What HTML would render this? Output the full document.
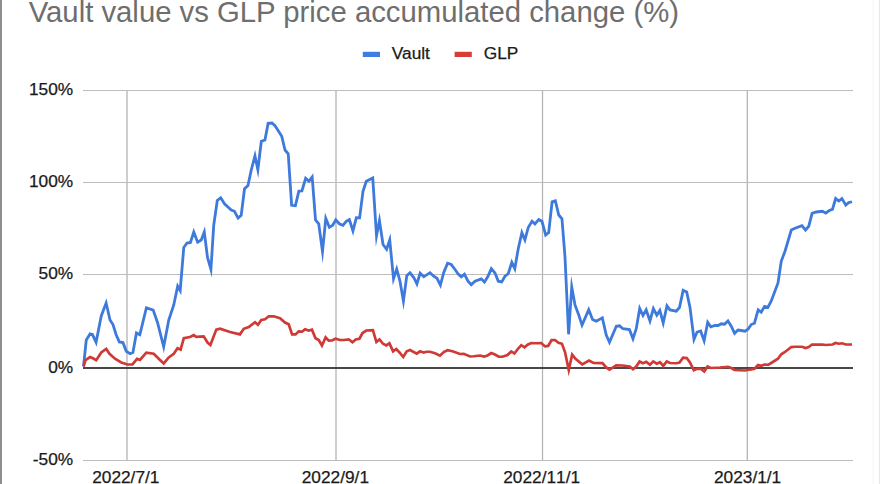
<!DOCTYPE html>
<html><head><meta charset="utf-8">
<style>
html,body{margin:0;padding:0;background:#fff;}
body{width:880px;height:484px;overflow:hidden;position:relative;font-family:"Liberation Sans",sans-serif;}
svg{position:absolute;left:0;top:0;}
text{font-family:"Liberation Sans",sans-serif;}
</style></head><body>
<svg width="880" height="484" viewBox="0 0 880 484">
<rect x="0" y="0" width="880" height="484" fill="#ffffff"/>
<rect x="0" y="0" width="2" height="484" fill="#8e8e8e"/>
<rect x="879" y="0" width="1" height="484" fill="#e6e6e6"/>
<rect x="872.5" y="0" width="1.5" height="484" fill="#f8f8f8"/>
<text id="title" x="28.7" y="21.5" font-size="29.3" fill="#6e6e6e">Vault value vs GLP price accumulated change (%)</text>
<!-- legend -->
<rect x="362.8" y="51.8" width="17.2" height="5.2" fill="#3f7de2"/>
<text id="lg1" x="391.8" y="59.4" font-size="17.3" fill="#1a1a1a" stroke="#1a1a1a" stroke-width="0.25">Vault</text>
<rect x="454.6" y="51.8" width="17.2" height="5.2" fill="#d93d38"/>
<text id="lg2" x="483.8" y="59.4" font-size="17.3" fill="#1a1a1a" stroke="#1a1a1a" stroke-width="0.25">GLP</text>
<!-- gridlines -->
<g fill="#b4b4b4">
<rect x="126.35" y="90" width="1.3" height="371"/>
<rect x="335.35" y="90" width="1.3" height="371"/>
<rect x="541.9" y="90" width="1.25" height="371"/>
<rect x="746.65" y="90" width="1.3" height="371"/>
</g>
<g fill="#bdbdbd">
<rect x="83" y="90" width="770" height="1"/>
<rect x="83" y="182" width="770" height="1"/>
<rect x="83" y="274" width="770" height="1"/>
<rect x="83" y="460" width="770" height="1"/>
</g>
<rect x="83" y="367.1" width="770" height="1.8" fill="#333"/>
<!-- series -->
<polyline fill="none" stroke="#3d7adc" stroke-width="2.8" stroke-linejoin="miter" stroke-miterlimit="10" points="83.50,366.50 86.27,340.01 90.06,333.90 92.46,334.55 96.08,342.35 101.25,316.00 106.14,303.05 110.01,320.00 112.99,324.50 116.25,335.00 119.30,341.93 122.94,342.57 126.27,351.23 130.01,353.67 132.93,352.45 136.44,332.89 139.84,334.65 146.40,307.76 153.20,310.05 157.50,322.50 163.68,346.73 168.75,320.00 173.75,305.00 177.68,286.14 180.18,290.53 183.77,247.51 187.03,243.04 190.43,242.42 193.78,232.03 197.62,242.16 201.22,239.98 204.27,231.96 207.50,257.50 210.92,269.45 213.75,225.00 217.29,200.52 220.70,197.81 224.50,203.75 231.26,209.99 234.47,211.28 238.07,218.11 241.21,215.23 244.53,188.77 247.97,185.49 251.25,170.00 254.95,155.87 257.86,169.77 261.33,141.32 264.93,139.94 268.11,123.37 271.98,123.05 275.00,125.75 278.25,130.75 281.74,136.25 285.02,149.99 288.22,153.76 291.64,205.37 295.38,205.82 298.85,191.12 301.91,190.89 305.65,178.27 308.97,181.21 312.18,177.07 315.53,219.99 318.73,223.76 322.50,251.50 325.78,218.26 329.36,227.20 332.48,225.48 335.79,219.93 339.26,223.74 342.96,225.34 346.26,221.26 349.37,219.58 352.95,230.85 356.36,217.65 359.60,217.82 363.00,191.25 366.29,181.28 372.74,177.95 376.52,235.70 379.44,220.60 383.02,244.49 386.63,249.28 389.73,239.90 393.52,278.82 396.71,269.07 400.00,281.25 403.43,300.98 406.78,275.77 409.98,272.80 413.75,277.50 416.91,283.91 420.15,273.09 423.77,276.81 429.98,272.68 433.75,276.25 436.98,278.27 440.38,285.10 443.75,272.50 447.60,263.22 451.23,264.52 454.50,268.75 458.00,273.75 461.26,276.79 464.42,274.13 468.01,281.25 471.26,284.74 475.01,281.26 481.22,278.87 484.45,282.11 488.00,276.25 491.33,268.57 494.99,273.00 498.30,281.18 501.69,281.87 505.01,276.26 508.23,273.73 511.83,262.33 514.80,268.57 518.25,248.75 521.88,232.68 524.91,239.94 528.26,227.50 532.05,221.13 534.98,223.96 538.78,219.44 541.96,221.28 545.66,234.99 548.71,232.48 552.09,201.83 555.35,200.76 558.77,214.99 561.97,218.76 565.00,257.00 568.60,334.30 571.75,287.00 575.00,305.00 578.75,315.00 582.05,325.11 588.73,309.77 592.54,319.47 596.25,321.18 602.33,317.88 606.25,335.00 609.49,342.30 616.31,326.32 619.48,325.81 623.01,328.73 629.44,329.58 632.97,338.75 636.25,328.75 639.70,308.46 643.02,315.49 646.17,309.69 649.96,320.97 653.37,308.59 656.78,315.13 659.86,310.41 663.20,322.96 666.94,305.86 670.02,309.96 676.22,311.16 679.48,307.49 683.17,290.35 686.69,292.04 690.00,307.50 693.99,339.43 697.05,332.05 700.64,330.96 704.12,340.74 707.70,322.25 710.80,326.85 715.00,325.51 718.00,325.48 721.26,323.78 724.48,324.19 727.95,320.87 731.25,326.25 734.58,333.31 738.02,330.06 741.25,330.50 744.99,331.20 747.99,329.24 751.27,324.52 754.45,323.20 758.16,309.95 761.19,312.19 764.56,306.40 767.93,307.34 771.25,301.00 778.00,283.00 781.25,261.25 785.00,251.25 791.29,230.04 795.00,228.25 801.96,225.64 805.50,230.13 808.74,226.24 812.07,213.31 816.25,212.00 822.49,211.28 825.74,213.13 829.25,210.51 832.44,209.44 835.65,198.49 838.75,201.07 841.94,198.57 845.81,205.14 848.76,202.52 852.00,201.75"/>
<polyline fill="none" stroke="#d03a36" stroke-width="2.7" stroke-linejoin="miter" stroke-miterlimit="10" points="83.50,366.50 85.53,360.02 90.01,357.08 92.50,358.00 96.20,360.26 101.26,352.51 106.20,349.01 109.50,353.75 115.00,358.75 121.25,362.50 127.50,364.49 132.47,364.44 137.04,358.88 139.97,359.88 146.28,352.59 153.74,353.78 158.75,358.75 163.73,363.46 168.75,357.50 173.74,353.74 177.55,348.19 180.60,349.68 183.83,338.08 190.00,336.99 193.74,335.11 196.26,336.96 203.70,336.35 207.51,342.50 210.39,345.04 216.31,329.57 220.00,328.77 230.00,332.00 239.95,334.37 243.77,328.78 248.75,326.99 255.00,322.18 257.96,324.70 261.28,320.04 264.99,319.24 268.76,316.28 273.75,316.26 279.99,318.26 285.00,322.50 288.71,324.29 292.08,334.39 295.48,334.45 298.77,331.31 301.99,331.70 305.01,329.33 308.75,330.48 311.91,329.68 315.53,338.23 318.73,340.02 321.96,345.51 325.59,337.47 328.77,340.69 332.00,340.49 335.50,338.79 340.00,339.99 343.75,340.00 348.74,339.30 352.50,342.31 355.76,339.52 359.46,338.70 362.51,333.01 366.26,330.52 372.90,330.14 376.40,342.01 379.48,339.51 383.01,343.74 386.24,345.40 389.41,343.32 393.09,351.38 396.23,348.97 399.50,352.50 403.22,357.05 406.77,351.28 410.00,350.06 416.74,353.64 420.01,351.32 423.75,352.47 426.25,351.76 430.00,351.76 435.00,353.25 439.98,355.62 443.75,352.01 447.50,350.28 452.50,351.25 460.00,353.99 463.75,353.77 470.00,356.48 473.75,356.25 480.00,355.51 484.00,356.48 487.50,355.49 491.26,353.08 495.00,354.50 498.76,356.73 502.50,356.74 507.49,354.99 511.27,351.42 514.46,353.52 518.00,348.75 521.27,345.20 524.49,347.35 528.00,344.50 531.25,343.02 535.00,343.25 541.23,343.05 545.02,346.44 548.21,345.94 551.55,340.08 554.99,340.04 558.50,342.74 561.95,343.80 565.00,352.00 568.76,370.12 572.19,354.57 575.50,358.75 582.26,364.37 589.00,360.59 593.50,362.98 602.47,363.06 606.25,367.50 609.50,369.63 616.26,365.28 622.50,365.50 629.74,366.52 633.00,369.30 636.25,366.50 639.56,361.46 643.00,363.19 646.24,361.85 649.99,364.78 653.27,361.43 656.76,363.66 659.97,362.16 663.24,365.90 666.79,361.42 670.00,362.99 676.25,363.24 679.48,362.47 683.04,357.59 686.72,358.05 690.00,362.50 693.83,370.26 697.00,368.77 700.74,368.78 704.20,371.46 707.55,366.45 710.75,367.98 720.00,367.50 728.00,366.77 731.25,368.00 734.51,369.98 745.00,370.50 747.50,370.00 751.25,369.50 754.49,368.73 758.03,365.08 761.25,365.73 764.50,364.52 767.99,364.96 771.25,363.00 777.99,358.74 781.26,354.26 785.00,352.00 791.26,347.03 795.00,346.75 802.00,346.76 805.50,347.97 808.75,346.99 812.01,344.53 822.50,344.50 825.75,345.00 832.50,344.49 835.50,343.04 838.75,343.74 842.00,343.27 845.75,344.49 852.00,344.50"/>
<!-- y labels -->
<g font-size="17.3" fill="#1a1a1a" stroke="#1a1a1a" stroke-width="0.25" text-anchor="end">
<text x="73.2" y="95.4">150%</text>
<text x="73.2" y="187.4">100%</text>
<text x="73.2" y="279.4">50%</text>
<text x="73.2" y="372.9">0%</text>
<text x="73.2" y="465.4">-50%</text>
</g>
<g font-size="17.3" fill="#1a1a1a" stroke="#1a1a1a" stroke-width="0.25" text-anchor="middle">
<text x="125.8" y="483" id="x1">2022/7/1</text>
<text x="335.4" y="483" id="x2">2022/9/1</text>
<text x="541.7" y="483" id="x3" style="font-kerning:none">2022/11/1</text>
<text x="747.6" y="483" id="x4">2023/1/1</text>
</g>
</svg>
</body></html>
